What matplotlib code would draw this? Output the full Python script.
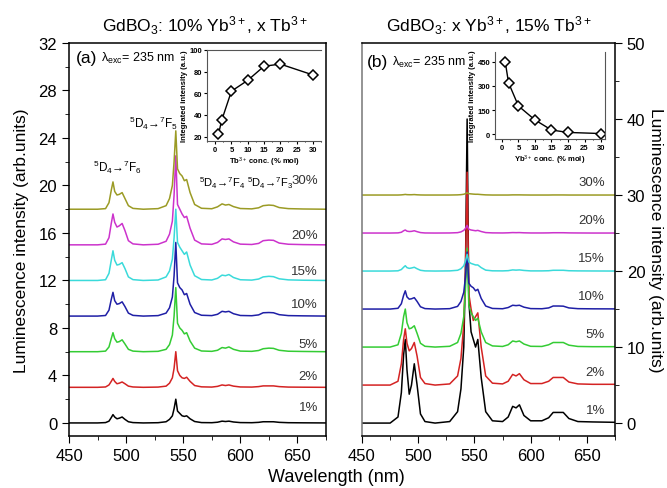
import numpy as np
import matplotlib
matplotlib.use('Agg')
import matplotlib.pyplot as plt
from matplotlib.ticker import MultipleLocator

plt.rcParams['font.family'] = ['Liberation Sans', 'DejaVu Sans']
plt.rcParams['mathtext.fontset'] = 'custom'
plt.rcParams['mathtext.rm'] = 'Liberation Sans'
plt.rcParams['mathtext.it'] = 'Liberation Sans:italic'
plt.rcParams['mathtext.bf'] = 'Liberation Sans:bold'

# wavelength grid (nm), shared by all spectra
wl = [450, 475, 482, 485, 487, 488.5, 490, 492, 494, 496.5, 499, 502, 506, 515,
      528, 535, 538, 540.5, 542, 543.5, 545, 547, 549, 551, 553, 556, 560, 566,
      575, 580, 584, 587, 590, 594, 600, 610, 616, 620, 625, 629, 634, 642, 655, 675]

conc = ['1%', '2%', '5%', '10%', '15%', '20%', '30%']
colors = ['black', '#d42323', '#34cc34', '#1f1fa6', '#3adada', '#cc33cc', '#9b9b25']

# (a) GdBO3: 10% Yb, x Tb  -- intensity above each baseline
a_offset = [0, 3, 6, 9, 12, 15, 18]
a_1 = [0, 0, 0.03, 0.15, 0.45, 0.7, 0.5, 0.35, 0.4, 0.5, 0.3, 0.1, 0.03, 0, 0.02, 0.1, 0.3, 0.6, 1.2, 2.0,
       1.0, 0.8, 0.6, 0.55, 0.6, 0.35, 0.12, 0.03, 0.02, 0.06, 0.15, 0.12, 0.15, 0.08, 0.03, 0.02, 0.05,
       0.1, 0.1, 0.1, 0.05, 0.02, 0.01, 0]
a_2 = [0, 0, 0.03, 0.2, 0.5, 0.75, 0.5, 0.3, 0.35, 0.45, 0.3, 0.1, 0.03, 0, 0.02, 0.1, 0.35, 0.8, 1.6, 3.0,
       1.4, 1.0, 0.8, 0.75, 0.85, 0.5, 0.15, 0.04, 0.02, 0.08, 0.2, 0.15, 0.2, 0.1, 0.03, 0.02, 0.06,
       0.12, 0.12, 0.12, 0.06, 0.02, 0.01, 0]
a_5 = [0, 0, 0.05, 0.4, 1.1, 1.6, 1.1, 0.8, 0.85, 1.0, 0.65, 0.2, 0.05, 0, 0.03, 0.2, 0.6, 1.4, 3.0, 5.4,
       2.4, 2.0, 1.8, 1.5, 1.6, 0.9, 0.3, 0.06, 0.03, 0.12, 0.35, 0.3, 0.4, 0.2, 0.05, 0.03, 0.1,
       0.25, 0.3, 0.28, 0.12, 0.04, 0.02, 0]
a_10 = [0, 0, 0.05, 0.5, 1.4, 2.0, 1.3, 1.0, 1.05, 1.2, 0.8, 0.25, 0.06, 0, 0.04, 0.25, 0.7, 1.6, 3.4, 6.2,
        2.8, 2.4, 2.2, 1.8, 1.9, 1.0, 0.3, 0.07, 0.04, 0.15, 0.4, 0.35, 0.4, 0.2, 0.05, 0.03, 0.1,
        0.28, 0.3, 0.28, 0.12, 0.04, 0.02, 0]
a_15 = [0, 0, 0.06, 0.6, 1.7, 2.5, 1.7, 1.3, 1.35, 1.5, 1.0, 0.3, 0.07, 0, 0.04, 0.3, 0.8, 1.8, 3.6, 6.0,
        3.2, 2.8, 2.5, 2.2, 2.4, 1.3, 0.4, 0.08, 0.04, 0.18, 0.45, 0.4, 0.5, 0.25, 0.06, 0.03, 0.12,
        0.3, 0.35, 0.32, 0.14, 0.05, 0.02, 0]
a_20 = [0, 0, 0.06, 0.6, 1.8, 2.6, 1.9, 1.5, 1.6, 1.8, 1.2, 0.35, 0.08, 0, 0.05, 0.3, 0.9, 2.0, 4.2, 7.5,
        3.4, 3.0, 2.6, 2.3, 2.4, 1.4, 0.4, 0.08, 0.04, 0.2, 0.5, 0.45, 0.5, 0.25, 0.06, 0.03, 0.12,
        0.35, 0.4, 0.38, 0.15, 0.05, 0.02, 0]
a_30 = [0, 0, 0.05, 0.55, 1.6, 2.3, 1.5, 1.2, 1.25, 1.4, 0.9, 0.3, 0.07, 0, 0.05, 0.3, 0.9, 2.0, 4.0, 6.6,
        3.4, 3.0, 2.8, 2.4, 2.5, 1.4, 0.4, 0.08, 0.04, 0.2, 0.45, 0.35, 0.4, 0.22, 0.06, 0.03, 0.12,
        0.3, 0.35, 0.32, 0.14, 0.05, 0.02, 0]
a_spectra = [a_1, a_2, a_5, a_10, a_15, a_20, a_30]

# (b) GdBO3: x Yb, 15% Tb
b_offset = [0, 5, 10, 15, 20, 25, 30]
b_1 = [0, 0, 0.8, 4.0, 9.0, 11.0, 7.0, 3.8, 5.0, 7.8, 5.0, 1.2, 0.2, 0, 0.2, 1.5, 4.5, 10.0, 20.0, 40.0,
       16.0, 12.0, 11.0, 10.0, 11.0, 6.0, 1.5, 0.3, 0.2, 0.8, 2.2, 2.0, 2.4, 1.0, 0.3, 0.3, 0.7,
       1.4, 1.4, 1.4, 0.6, 0.2, 0.15, 0.1]
b_2 = [0, 0, 0.5, 2.8, 6.0, 7.4, 5.5, 4.5, 4.8, 5.6, 3.8, 1.0, 0.2, 0, 0.15, 1.2, 3.5, 8.0, 15.0, 28.0,
       12.0, 10.0, 8.5, 9.0, 9.5, 5.0, 1.2, 0.25, 0.15, 0.5, 1.4, 1.2, 1.5, 0.7, 0.2, 0.2, 0.5,
       1.0, 1.0, 1.0, 0.4, 0.15, 0.1, 0.1]
b_5 = [0, 0, 0.3, 1.8, 4.0, 5.0, 3.2, 2.4, 2.5, 2.8, 1.8, 0.5, 0.1, 0, 0.1, 0.6, 1.8, 4.0, 7.5, 13.0,
       5.5, 4.5, 4.0, 3.5, 3.8, 2.0, 0.6, 0.15, 0.08, 0.3, 0.8, 0.7, 0.8, 0.4, 0.1, 0.08, 0.3,
       0.6, 0.6, 0.6, 0.25, 0.08, 0.05, 0.05]
b_10 = [0, 0, 0.1, 0.7, 1.8, 2.4, 1.6, 1.3, 1.35, 1.5, 1.0, 0.3, 0.06, 0, 0.05, 0.35, 1.0, 2.2, 4.2, 7.5,
        3.4, 3.0, 2.8, 2.4, 2.6, 1.4, 0.4, 0.08, 0.04, 0.2, 0.5, 0.45, 0.5, 0.25, 0.06, 0.04, 0.15,
        0.4, 0.4, 0.38, 0.15, 0.05, 0.03, 0.02]
b_15 = [0, 0, 0.03, 0.2, 0.5, 0.7, 0.45, 0.35, 0.4, 0.5, 0.3, 0.1, 0.02, 0, 0.02, 0.1, 0.3, 0.7, 1.3, 2.2,
        1.2, 1.0, 0.9, 0.8, 0.8, 0.45, 0.12, 0.03, 0.02, 0.05, 0.15, 0.12, 0.15, 0.08, 0.02, 0.02, 0.04,
        0.1, 0.1, 0.1, 0.04, 0.02, 0.01, 0]
b_20 = [0, 0, 0.02, 0.1, 0.3, 0.4, 0.25, 0.2, 0.22, 0.3, 0.18, 0.06, 0.01, 0, 0.01, 0.05, 0.15, 0.35, 0.6, 1.0,
        0.5, 0.4, 0.35, 0.3, 0.35, 0.2, 0.06, 0.02, 0.01, 0.03, 0.06, 0.05, 0.06, 0.03, 0.01, 0.01, 0.02,
        0.04, 0.04, 0.04, 0.02, 0.01, 0, 0]
b_30 = [0, 0, 0, 0.02, 0.05, 0.08, 0.05, 0.04, 0.04, 0.06, 0.03, 0.01, 0, 0, 0, 0.02, 0.05, 0.1, 0.18, 0.3,
        0.18, 0.15, 0.12, 0.1, 0.1, 0.06, 0.02, 0, 0, 0, 0.02, 0.02, 0.02, 0.01, 0, 0, 0,
        0.01, 0.01, 0.01, 0, 0, 0, 0]
b_spectra = [b_1, b_2, b_5, b_10, b_15, b_20, b_30]

# insets: integrated intensity vs concentration
ins_conc = [1, 2, 5, 10, 15, 20, 30]
ins_a = [22, 35, 62, 72, 85, 87, 77]
ins_b = [450, 320, 175, 88, 25, 10, 3]

W, H = 667, 489
fig = plt.figure(figsize=(W / 100, H / 100), dpi=100)


def px(x0, y0, x1, y1):
    return [x0 / W, 1 - y1 / H, (x1 - x0) / W, (y1 - y0) / H]


ax1 = fig.add_axes(px(69, 44, 326, 437))
ax2 = fig.add_axes(px(362, 44, 615, 437))

w = np.array(wl)
for i in range(7):
    ax1.plot(w, np.array(a_spectra[i]) + a_offset[i], color=colors[i], lw=1.1)
    ax2.plot(w, np.array(b_spectra[i]) + b_offset[i], color=colors[i], lw=1.1)

a_lab_y = [1.35, 0.95, 0.65, 1.0, 0.8, 0.8, 2.5]
for i in range(7):
    ax1.text(668, a_offset[i] + a_lab_y[i], conc[i], ha='right', va='center', fontsize=9.5, color='#333333')
    ax2.text(666, b_offset[i] + 1.7, conc[i], ha='right', va='center', fontsize=9.5, color='#333333')

for ax in (ax1, ax2):
    ax.set_xlim(450, 675)
    ax.xaxis.set_major_locator(MultipleLocator(50))
    ax.xaxis.set_minor_locator(MultipleLocator(25))
    ax.tick_params(which='both', direction='out', labelsize=12)
    ax.tick_params(which='major', length=5)
    ax.tick_params(which='minor', length=3)
    for s in ax.spines.values():
        s.set_linewidth(1.1)

ax1.set_ylim(-1.1, 32)
ax1.yaxis.set_major_locator(MultipleLocator(4))
ax1.yaxis.set_minor_locator(MultipleLocator(2))
ax1.set_ylabel('Luminescence intensity (arb.units)', fontsize=12.5, labelpad=7)
ax1.set_title(r'GdBO$_3$: 10% Yb$^{3+}$, x Tb$^{3+}$', fontsize=12.5, pad=9, x=0.53)

ax2.set_ylim(-1.7, 50)
ax2.yaxis.set_major_locator(MultipleLocator(10))
ax2.yaxis.set_minor_locator(MultipleLocator(5))
ax2.yaxis.tick_right()
ax2.yaxis.set_label_position('right')
ax2.set_ylabel('Luminescence intensity (arb.units)', fontsize=12.5, rotation=270, labelpad=13)
ax2.set_title(r'GdBO$_3$: x Yb$^{3+}$, 15% Tb$^{3+}$', fontsize=12.5, pad=9)
ax2.spines['left'].set_color('#777777')

fig.text(0.505, 0.006, 'Wavelength (nm)', ha='center', va='bottom', fontsize=13)

ax1.text(456, 30.8, '(a)', fontsize=12.5, va='center')
ax1.text(478, 30.8, r'λ$_{\rm exc}$= 235 nm', fontsize=9, va='center')
ax2.text(454, 47.6, '(b)', fontsize=12.5, va='center')
ax2.text(477, 47.6, r'λ$_{\rm exc}$= 235 nm', fontsize=9, va='center')

ax1.text(524, 25.3, r'$^5$D$_4$→$^7$F$_5$', fontsize=8.5, ha='center', va='center')
ax1.text(492, 21.6, r'$^5$D$_4$→$^7$F$_6$', fontsize=8.5, ha='center', va='center')
ax1.text(584, 20.3, r'$^5$D$_4$→$^7$F$_4$', fontsize=8, ha='center', va='center')
ax1.text(626, 20.3, r'$^5$D$_4$→$^7$F$_3$', fontsize=8, ha='center', va='center')

# insets
in1 = fig.add_axes(px(207, 51, 321, 142))
in2 = fig.add_axes(px(495, 53, 605, 140))
in1.plot(ins_conc, ins_a, color='black', lw=1, marker='D', ms=5, mfc='white', mec='black', mew=1.1)
in2.plot(ins_conc, ins_b, color='black', lw=1, marker='D', ms=5, mfc='white', mec='black', mew=1.1)
in1.set_xlim(-2.5, 32.5)
in1.set_ylim(16, 100)
in1.set_yticks([20, 40, 60, 80, 100])
in2.set_xlim(-2.1, 31.2)
in2.set_ylim(-31, 512)
in2.set_yticks([0, 150, 300, 450])
in1.set_xlabel(r'Tb$^{3+}$ conc. (% mol)', fontsize=5.5, labelpad=1, fontweight='bold')
in2.set_xlabel(r'Yb$^{3+}$ conc. (% mol)', fontsize=5.5, labelpad=1, fontweight='bold')
for ins in (in1, in2):
    ins.set_xticks([0, 5, 10, 15, 20, 25, 30])
    ins.xaxis.set_minor_locator(MultipleLocator(2.5))
    ins.tick_params(which='both', direction='out', labelsize=5.5, pad=1.5)
    ins.tick_params(which='major', length=2)
    ins.tick_params(which='minor', length=1)
    for lab in ins.get_xticklabels() + ins.get_yticklabels():
        lab.set_fontweight('bold')
    ins.set_ylabel('Integrated intensity (a.u.)', fontsize=5.5, labelpad=1, fontweight='bold')
    for s in ins.spines.values():
        s.set_color('#555555')
        s.set_linewidth(0.8)
    ins.patch.set_alpha(0)
in1.spines['right'].set_visible(False)
in2.spines['top'].set_visible(False)

fig.savefig('out.png', dpi=100)
